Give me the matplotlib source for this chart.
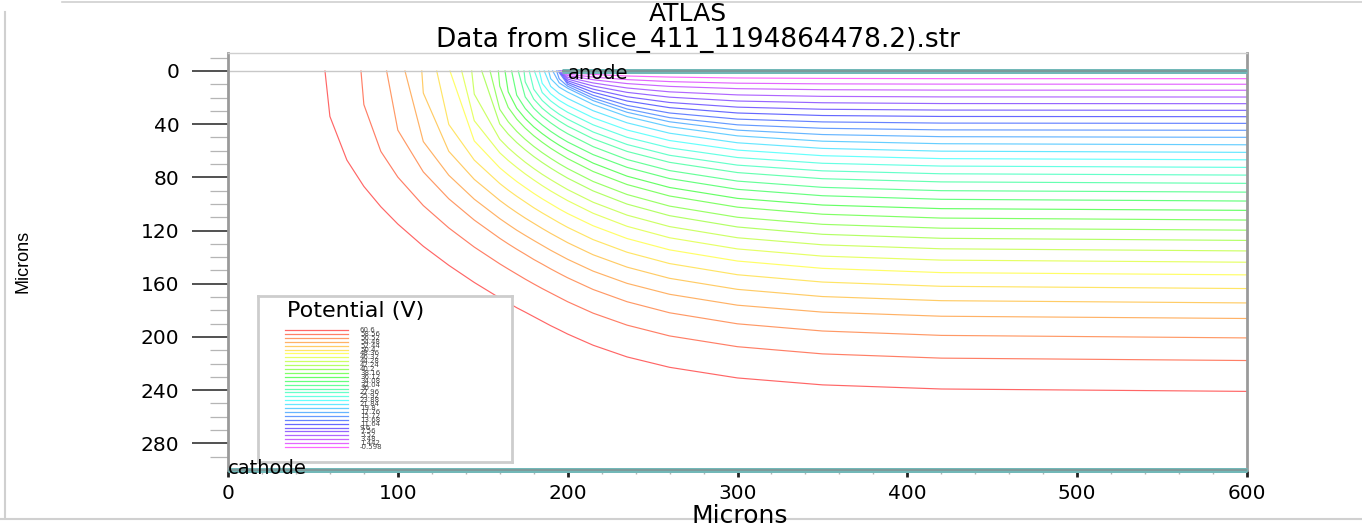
"""Potential contours (ATLAS slice) redrawn with matplotlib -> out.png"""
import matplotlib
matplotlib.use("Agg")
import matplotlib.pyplot as plt
import matplotlib.colors as mcolors
from matplotlib.ticker import MultipleLocator, FixedLocator

# contour levels (V), highest first, as in the legend
LEVELS = [60.6, 58.56, 56.52, 54.48, 52.44, 50.4, 48.36, 46.32, 44.28, 42.24,
          40.2, 38.16, 36.12, 34.08, 32.04, 30.0, 27.96, 25.92, 23.88, 21.84,
          19.8, 17.76, 15.72, 13.68, 11.64, 9.6, 7.56, 5.52, 3.48, 1.442, -0.598]

# x (microns) where each contour meets the top surface
SURFACE_X = [57.1, 78.3, 93.4, 104.2, 114.1, 122.9, 130.7, 137.6, 143.5, 149.4,
             154.3, 159.2, 163.1, 167.0, 170.9, 174.3, 177.4, 180.4, 183.3, 186.2,
             188.8, 191.2, 193.5, 194.3, 194.9, 195.4, 195.8, 196.1, 196.4, 196.6, 196.8]

# x stations (microns) and the depth of each contour there (None = left of its surface point)
STATIONS = [60, 70, 80, 90, 100, 115, 130, 145, 160, 165, 170, 175, 180, 185, 190, 195,
            200, 215, 235, 260, 300, 350, 420, 600]
N = None
DEPTH = [
    [34.2, 67.0, 86.8, 102.1, 115.1, 131.8, 146.1, 159.0, 170.7, 174.3, 178.0, 181.3, 184.7, 188.1, 191.5, 194.6, 197.8, 206.2, 215.0, 222.8, 230.8, 236.0, 239.1, 240.9],
    [N, N, 25.3, 60.5, 79.8, 101.2, 118.0, 132.4, 145.0, 148.9, 152.7, 156.5, 160.1, 163.6, 166.9, 170.2, 173.5, 182.1, 191.1, 199.2, 207.3, 212.7, 215.9, 217.7],
    [N, N, N, N, 44.5, 75.9, 96.1, 112.1, 125.8, 130.0, 134.0, 137.8, 141.7, 145.2, 148.8, 152.2, 155.5, 164.3, 173.5, 181.8, 190.1, 195.5, 198.8, 200.7],
    [N, N, N, N, N, 53.1, 78.4, 96.4, 111.0, 115.4, 119.7, 123.6, 127.4, 131.1, 134.8, 138.2, 141.6, 150.5, 159.7, 167.9, 176.1, 181.3, 184.4, 186.1],
    [N, N, N, N, N, 16.6, 60.4, 81.5, 97.3, 102.0, 106.4, 110.6, 114.5, 118.4, 122.1, 125.6, 129.1, 138.2, 147.5, 155.9, 164.2, 169.6, 172.7, 174.4],
    [N, N, N, N, N, N, 40.2, 67.0, 84.6, 89.6, 94.2, 98.5, 102.8, 106.7, 110.4, 114.1, 117.6, 126.8, 136.3, 144.8, 153.2, 158.7, 161.9, 163.6],
    [N, N, N, N, N, N, N, 52.6, 72.8, 78.1, 83.1, 87.6, 92.0, 96.1, 99.9, 103.7, 107.2, 116.4, 126.0, 134.5, 142.9, 148.4, 151.6, 153.3],
    [N, N, N, N, N, N, N, 37.4, 61.5, 67.3, 72.5, 77.4, 81.9, 86.2, 90.2, 93.9, 97.5, 107.0, 116.8, 125.4, 133.8, 139.2, 142.2, 143.8],
    [N, N, N, N, N, N, N, 17.4, 51.3, 57.8, 63.4, 68.6, 73.3, 77.7, 81.7, 85.5, 89.2, 98.7, 108.4, 117.0, 125.4, 130.7, 133.7, 135.3],
    [N, N, N, N, N, N, N, N, 39.8, 47.5, 53.8, 59.3, 64.3, 68.8, 73.0, 76.9, 80.6, 90.2, 100.1, 108.8, 117.3, 122.8, 125.8, 127.4],
    [N, N, N, N, N, N, N, N, 28.8, 38.2, 45.4, 51.4, 56.7, 61.4, 65.7, 69.7, 73.4, 83.1, 92.9, 101.6, 110.0, 115.3, 118.2, 119.7],
    [N, N, N, N, N, N, N, N, 11.3, 27.4, 36.2, 43.0, 48.7, 53.6, 58.1, 62.1, 65.9, 75.6, 85.4, 94.0, 102.4, 107.7, 110.6, 112.1],
    [N, N, N, N, N, N, N, N, N, 15.7, 28.0, 35.8, 42.0, 47.1, 51.7, 55.8, 59.6, 69.3, 79.1, 87.6, 95.8, 100.8, 103.5, 104.8],
    [N, N, N, N, N, N, N, N, N, N, 18.2, 28.2, 35.1, 40.6, 45.4, 49.6, 53.4, 62.9, 72.5, 80.9, 89.0, 93.8, 96.5, 97.8],
    [N, N, N, N, N, N, N, N, N, N, N, 19.5, 28.0, 34.1, 39.0, 43.4, 47.2, 56.9, 66.6, 74.9, 82.8, 87.5, 90.0, 91.1],
    [N, N, N, N, N, N, N, N, N, N, N, 8.2, 21.1, 28.0, 33.2, 37.6, 41.5, 51.0, 60.5, 68.7, 76.4, 81.0, 83.4, 84.5],
    [N, N, N, N, N, N, N, N, N, N, N, N, 13.7, 22.2, 27.9, 32.5, 36.3, 45.9, 55.3, 63.4, 70.8, 75.1, 77.3, 78.3],
    [N, N, N, N, N, N, N, N, N, N, N, N, N, 16.2, 22.5, 27.2, 31.1, 40.5, 49.9, 57.8, 65.1, 69.4, 71.5, 72.5],
    [N, N, N, N, N, N, N, N, N, N, N, N, N, 9.3, 17.2, 22.1, 25.9, 35.2, 44.4, 52.3, 59.5, 63.7, 65.9, 66.8],
    [N, N, N, N, N, N, N, N, N, N, N, N, N, N, 11.6, 16.9, 20.7, 29.9, 39.0, 46.8, 54.0, 58.2, 60.3, 61.2],
    [N, N, N, N, N, N, N, N, N, N, N, N, N, N, 5.8, 12.2, 15.9, 25.2, 34.3, 41.9, 48.8, 52.8, 54.7, 55.5],
    [N, N, N, N, N, N, N, N, N, N, N, N, N, N, N, 8.9, 13.0, 22.3, 31.1, 38.2, 44.5, 47.8, 49.4, 49.9],
    [N, N, N, N, N, N, N, N, N, N, N, N, N, N, N, 5.9, 11.5, 20.4, 28.6, 35.1, 40.5, 43.1, 44.3, 44.6],
    [N, N, N, N, N, N, N, N, N, N, N, N, N, N, N, N, 10.0, 18.3, 25.9, 31.6, 36.2, 38.3, 39.2, 39.4],
    [N, N, N, N, N, N, N, N, N, N, N, N, N, N, N, N, 8.7, 16.0, 22.6, 27.6, 31.6, 33.5, 34.2, 34.4],
    [N, N, N, N, N, N, N, N, N, N, N, N, N, N, N, N, 7.4, 13.7, 19.4, 23.7, 27.2, 28.8, 29.4, 29.6],
    [N, N, N, N, N, N, N, N, N, N, N, N, N, N, N, N, 6.1, 11.3, 16.1, 19.7, 22.6, 23.9, 24.5, 24.6],
    [N, N, N, N, N, N, N, N, N, N, N, N, N, N, N, N, 4.8, 9.0, 12.8, 15.7, 18.0, 19.1, 19.5, 19.6],
    [N, N, N, N, N, N, N, N, N, N, N, N, N, N, N, N, 3.5, 6.6, 9.5, 11.6, 13.3, 14.1, 14.4, 14.5],
    [N, N, N, N, N, N, N, N, N, N, N, N, N, N, N, N, 2.4, 4.6, 6.5, 8.0, 9.2, 9.7, 9.9, 10.0],
    [N, N, N, N, N, N, N, N, N, N, N, N, N, N, N, N, 1.4, 2.6, 3.8, 4.6, 5.3, 5.6, 5.8, 5.8],
]

ANODE_X = [196.8, 600]
CATHODE_X = [0, 600]
DEVICE_DEPTH = 300

TEAL = "#72b8b8"
TEAL_DARK = "#7f9a9a"
W, H = 1362, 531


def level_color(i, n):
    hue = 0.83 * i / (n - 1)
    return mcolors.to_hex(mcolors.hsv_to_rgb([hue, 0.6, 1.0]))


def main():
    fig = plt.figure(figsize=(W / 100, H / 100), dpi=100)
    ax = fig.add_axes([228 / W, 1 - 470 / H, (1247 - 228) / W, (470 - 53) / H])

    n = len(LEVELS)
    for i in range(n):
        xs = [SURFACE_X[i]]
        ys = [0.0]
        for sx, d in zip(STATIONS, DEPTH[i]):
            if d is not None:
                xs.append(sx)
                ys.append(d)
        ax.plot(xs, ys, color=level_color(i, n), lw=0.85, solid_joinstyle="round")

    # top surface and electrodes
    ax.plot([0, ANODE_X[0]], [0, 0], color="#c8c8c8", lw=1.0)
    for xx, yy in ((ANODE_X, [0, 0]), (CATHODE_X, [DEVICE_DEPTH, DEVICE_DEPTH])):
        ax.plot(xx, yy, color=TEAL, lw=3.6, solid_capstyle="butt", clip_on=False, zorder=4)
        ax.plot(xx, yy, color=TEAL_DARK, lw=1.4, solid_capstyle="butt", clip_on=False, zorder=5)
    ax.text(200, 2.0, "anode", fontsize=14, va="center", ha="left", zorder=6)

    ax.set_xlim(0, 600)
    ax.set_ylim(DEVICE_DEPTH, -13.5)

    ax.xaxis.set_major_locator(MultipleLocator(100))
    ax.xaxis.set_minor_locator(MultipleLocator(20))
    ax.yaxis.set_major_locator(FixedLocator(range(0, 281, 40)))
    ax.yaxis.set_minor_locator(FixedLocator([v for v in range(-10, 300, 10) if v % 40]))
    ax.tick_params(axis="y", which="major", length=26, width=1.1, color="#222222",
                   pad=9, labelsize=14.5)
    ax.tick_params(axis="y", which="minor", length=13, width=0.9, color="#b5b5b5")
    ax.tick_params(axis="x", which="major", length=5, width=2, color="#222222",
                   pad=5, labelsize=14.5)
    ax.tick_params(axis="x", which="minor", length=3, width=1, color="#b5b5b5")

    for side in ("left", "right"):
        ax.spines[side].set_color("#9a9a9a")
        ax.spines[side].set_linewidth(2)
    ax.spines["top"].set_color("#cfcfcf")
    ax.spines["top"].set_linewidth(1)
    ax.spines["bottom"].set_color(TEAL)
    ax.spines["bottom"].set_linewidth(1)

    fig.text(688 / W, 1 - 14 / H, "ATLAS", fontsize=18, ha="center", va="center")
    fig.text(698 / W, 1 - 40 / H, "Data from slice_411_1194864478.2).str", fontsize=19,
             ha="center", va="center")
    fig.text(740 / W, 1 - 516 / H, "Microns", fontsize=18, ha="center", va="center")
    fig.text(23 / W, 1 - 261 / H, "Microns", fontsize=13, rotation=90, ha="center",
             va="center", family="Liberation Sans")

    # legend box
    lax = fig.add_axes([258 / W, 1 - 462 / H, (512 - 258) / W, (462 - 296) / H])
    lax.set_xlim(0, 254)
    lax.set_ylim(166, 0)
    lax.set_xticks([])
    lax.set_yticks([])
    for sp in lax.spines.values():
        sp.set_color("#cdcdcd")
        sp.set_linewidth(2)
    lax.text(29, 15, "Potential (V)", fontsize=16, va="center", ha="left")
    for i, v in enumerate(LEVELS):
        yy = 34 + i * 3.9
        lax.plot([27, 90], [yy, yy], color=level_color(i, n), lw=0.9)
        lax.text(102, yy, f"{v:g}", fontsize=5, va="center", ha="left", color="#444444")

    # electrode label drawn on top of the legend frame
    fig.text(228 / W, 1 - 474 / H, "cathode", fontsize=14, va="baseline", ha="left", zorder=10)

    # screenshot frame
    fig.add_artist(plt.Line2D([5 / W, 5 / W], [1 - 12 / H, 1 - 518 / H], color="#d0d0d0", lw=1.5))
    fig.add_artist(plt.Line2D([0, 1], [1 - 519 / H, 1 - 519 / H], color="#d0d0d0", lw=1.5,
                              zorder=0))
    fig.add_artist(plt.Line2D([62 / W, 1], [1 - 2 / H, 1 - 2 / H], color="#d0d0d0", lw=1.2))

    fig.savefig("out.png", dpi=100)
    plt.close(fig)


if __name__ == "__main__":
    main()
